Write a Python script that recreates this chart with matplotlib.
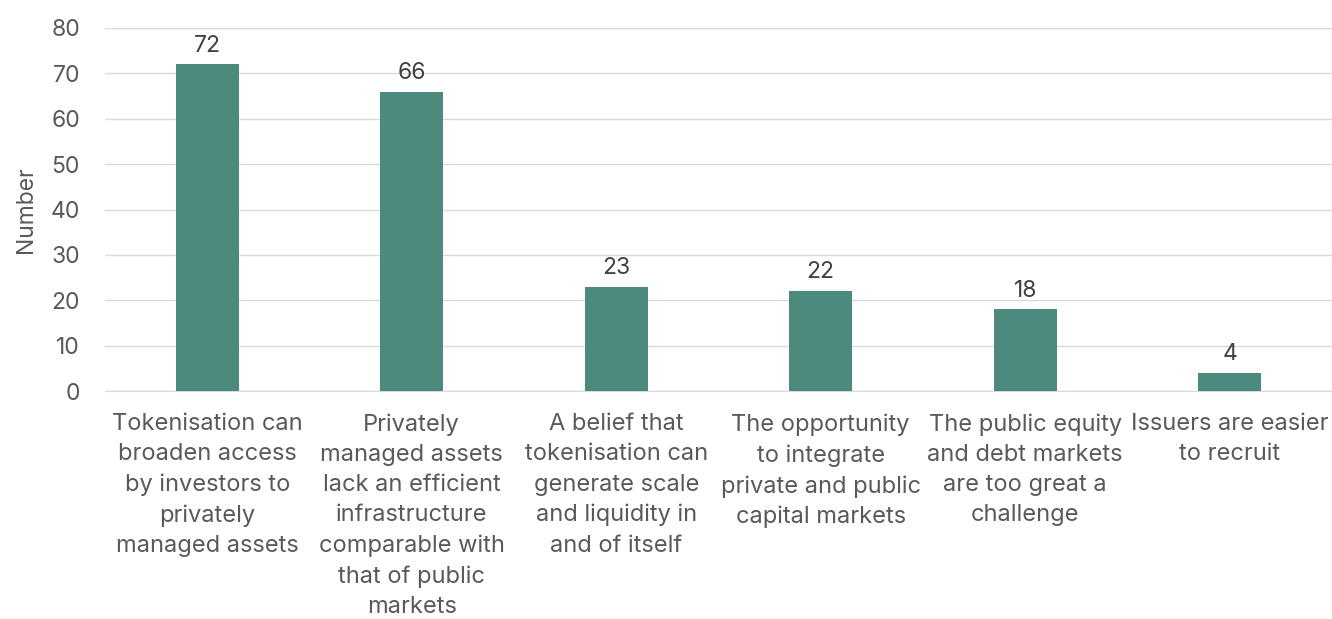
import matplotlib
matplotlib.use("Agg")
import matplotlib.pyplot as plt

categories = [
    "Tokenisation can\nbroaden access\nby investors to\nprivately\nmanaged assets",
    "Privately\nmanaged assets\nlack an efficient\ninfrastructure\ncomparable with\nthat of public\nmarkets",
    "A belief that\ntokenisation can\ngenerate scale\nand liquidity in\nand of itself",
    "The opportunity\nto integrate\nprivate and public\ncapital markets",
    "The public equity\nand debt markets\nare too great a\nchallenge",
    "Issuers are easier\nto recruit",
]
values = [72, 66, 23, 22, 18, 4]
yticks = [0, 10, 20, 30, 40, 50, 60, 70, 80]

plt.rcParams['font.family'] = ['Inter', 'DejaVu Sans']
text_color = '#595959'
bar_color = '#4C8A7E'

fig = plt.figure(figsize=(13.32, 6.19), dpi=100)
ax = fig.add_axes([0.0788, 0.3683, 0.9212, 0.5865])
x = list(range(len(values)))
bars = ax.bar(x, values, width=0.31, color=bar_color, zorder=3)
for xi, v in zip(x, values):
    ax.text(xi, v + 1.7, str(v), ha='center', va='bottom', fontsize=16.5, color='#404040')

ax.set_xlim(-0.5, len(values) - 0.5)
ax.set_ylim(0, 80)
ax.set_yticks(yticks)
ax.set_yticklabels([str(t) for t in yticks], fontsize=16.5, color=text_color)
ax.set_xticks(x)
ax.set_xticklabels(categories, fontsize=17, color=text_color, linespacing=1.48, va='top')
ax.tick_params(axis='both', length=0)
ax.tick_params(axis='x', pad=16)
ax.tick_params(axis='y', pad=18)
ax.grid(axis='y', color='#D9D9D9', linewidth=1, zorder=0)
for s in ['top', 'right', 'left']:
    ax.spines[s].set_visible(False)
ax.spines['bottom'].set_color('#D9D9D9')
ax.set_ylabel('Number', fontsize=16.5, color=text_color, labelpad=10)

fig.savefig('out.png', dpi=100)
